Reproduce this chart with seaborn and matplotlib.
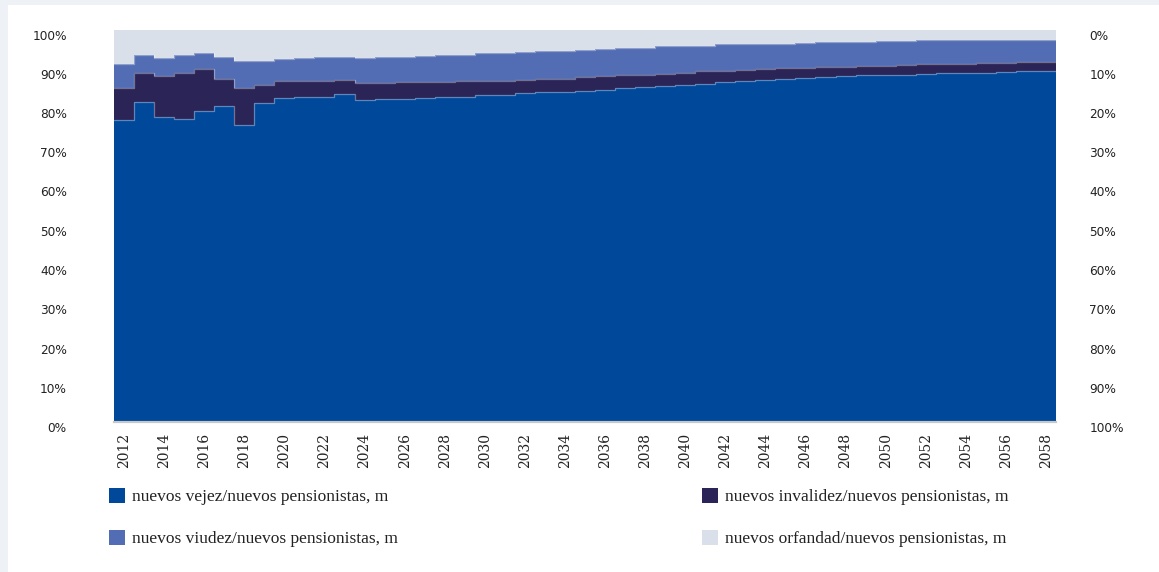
"""Share of new pensions by type, 2012-2058 (stacked step area)."""

import matplotlib
matplotlib.use("Agg")
import matplotlib.pyplot as plt
import matplotlib.transforms as mtransforms
from matplotlib.patches import Patch, Rectangle
import seaborn as sns
import numpy as np

years = list(range(2012, 2059))

# shares of new pensioners, %
vejez = [77.0, 81.6, 77.8, 77.3, 79.3, 80.6, 75.7, 81.4, 82.5, 82.9, 82.9, 83.5,
         82.1, 82.3, 82.4, 82.6, 82.7, 82.8, 83.2, 83.2, 83.7, 84.1, 84.1, 84.4,
         84.7, 85.0, 85.4, 85.6, 85.9, 86.1, 86.6, 86.9, 87.2, 87.3, 87.6, 87.9,
         88.1, 88.3, 88.3, 88.5, 88.6, 88.8, 88.9, 89.0, 89.1, 89.3, 89.5]
invalidez = [8.1, 7.4, 10.4, 11.7, 10.6, 6.8, 9.4, 4.4, 4.4, 4.0, 4.0, 3.7,
             4.3, 4.1, 4.1, 3.9, 3.9, 4.0, 3.7, 3.7, 3.5, 3.3, 3.4, 3.5,
             3.4, 3.3, 3.0, 3.1, 3.1, 3.2, 2.8, 2.7, 2.7, 2.8, 2.7, 2.5,
             2.4, 2.3, 2.5, 2.5, 2.5, 2.4, 2.3, 2.4, 2.4, 2.4, 2.2]
viudez = [6.2, 4.4, 4.6, 4.5, 4.1, 5.5, 7.0, 6.1, 5.6, 5.9, 6.0, 5.9,
          6.3, 6.5, 6.4, 6.7, 6.8, 6.8, 7.0, 7.0, 7.0, 7.0, 7.0, 6.9,
          6.9, 6.9, 7.0, 7.0, 6.8, 6.6, 6.8, 6.7, 6.4, 6.3, 6.2, 6.3,
          6.3, 6.3, 6.2, 6.1, 6.1, 6.0, 6.1, 6.0, 5.9, 5.7, 5.7]
orfandad = [8.7, 6.6, 7.2, 6.5, 6.0, 7.1, 7.9, 8.1, 7.5, 7.2, 7.1, 6.9,
            7.3, 7.1, 7.1, 6.8, 6.6, 6.4, 6.1, 6.1, 5.8, 5.6, 5.5, 5.2,
            5.0, 4.8, 4.6, 4.3, 4.2, 4.1, 3.8, 3.7, 3.7, 3.6, 3.5, 3.3,
            3.2, 3.1, 3.0, 2.9, 2.8, 2.8, 2.7, 2.6, 2.6, 2.6, 2.6]

series = ["nuevos vejez/nuevos pensionistas, m",
          "nuevos invalidez/nuevos pensionistas, m",
          "nuevos viudez/nuevos pensionistas, m",
          "nuevos orfandad/nuevos pensionistas, m"]
colors = ["#00499a", "#2b2456", "#536db4", "#dae0e9"]

sns.set_style("white")

fig = plt.figure(figsize=(11.59, 5.72), dpi=100, facecolor="#eef2f6")
# white card
fig.patches.append(Rectangle((8 / 1159, 0), 1, 1 - 5 / 572, transform=fig.transFigure,
                             facecolor="white", edgecolor="none", zorder=-1))

ax = fig.add_axes([114 / 1159, 1 - 422 / 572, 942 / 1159, 392.5 / 572])
ax.set_facecolor("none")

n = len(years)
edges = np.arange(n + 1) - 0.5
bottom = np.zeros(n)
for vals, col in zip([vejez, invalidez, viudez, orfandad], colors):
    top = bottom + np.array(vals)
    ax.fill_between(edges, np.append(bottom, bottom[-1]), np.append(top, top[-1]),
                    step="post", color=col, linewidth=0)
    if col != colors[-1]:
        sns.lineplot(x=edges, y=np.append(top, top[-1]), drawstyle="steps-post",
                     color="white", alpha=0.35, linewidth=0.9, ax=ax)
    bottom = top

ax.set_xlim(-0.5, n - 0.5)
ax.set_ylim(0, 100)

ax.set_xticks([i for i, y in enumerate(years) if y % 2 == 0])
ax.set_xticklabels([str(y) for y in years if y % 2 == 0], rotation=90,
                   fontsize=10, family="DejaVu Serif", color="#222222")
ax.tick_params(axis="x", length=0, pad=8)

pct_ticks = np.arange(0, 101, 10)
ax.set_yticks(pct_ticks)
ax.set_yticklabels([f"{t}%" for t in pct_ticks], fontsize=8.7, family="DejaVu Sans",
                   color="#222222")
ax.tick_params(axis="y", length=0, pad=34)

ax2 = ax.twinx()
ax2.set_ylim(100, 0)
ax2.set_yticks(pct_ticks)
ax2.set_yticklabels([f"{t}%" for t in pct_ticks], fontsize=8.7, family="DejaVu Sans",
                    color="#222222")
ax2.tick_params(axis="y", length=0, pad=24)

shift = mtransforms.ScaledTranslation(0, -5 / 100, fig.dpi_scale_trans)
for lab in ax.get_yticklabels() + ax2.get_yticklabels():
    lab.set_transform(lab.get_transform() + shift)

for a in (ax, ax2):
    for side in ["top", "right", "left"]:
        a.spines[side].set_visible(False)
    a.spines["bottom"].set_color("#c8c8c8")
    a.spines["bottom"].set_linewidth(1.5)
    a.grid(False)

handles = [Patch(facecolor=c, edgecolor="none") for c in colors]
leg_kw = dict(frameon=False, loc="upper left", handlelength=0.95, handleheight=0.95,
              handletextpad=0.4, labelspacing=1.4, borderaxespad=0, borderpad=0,
              prop={"family": "Liberation Serif", "size": 12.5})
leg1 = fig.legend([handles[0], handles[2]], [series[0], series[2]],
                  bbox_to_anchor=(109 / 1159, 1 - 488 / 572), **leg_kw)
leg2 = fig.legend([handles[1], handles[3]], [series[1], series[3]],
                  bbox_to_anchor=(702 / 1159, 1 - 488 / 572), **leg_kw)
for leg in (leg1, leg2):
    for t in leg.get_texts():
        t.set_color("#222222")

fig.savefig("out.png", dpi=100, facecolor=fig.get_facecolor())
